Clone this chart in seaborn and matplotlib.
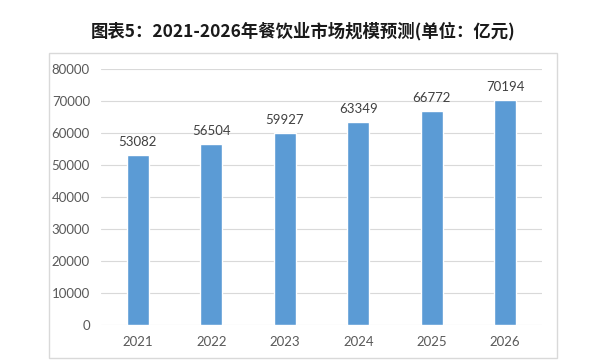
import matplotlib
matplotlib.use("Agg")
import matplotlib.pyplot as plt
import seaborn as sns
import pandas as pd
from matplotlib.patches import Rectangle

years = ["2021", "2022", "2023", "2024", "2025", "2026"]
values = [53082, 56504, 59927, 63349, 66772, 70194]
yticks = [0, 10000, 20000, 30000, 40000, 50000, 60000, 70000, 80000]
title = "图表5：2021-2026年餐饮业市场规模预测(单位：亿元)"

sns.set_theme(style="white")
plt.rcParams['font.family'] = ['Lato', 'DejaVu Sans']

df = pd.DataFrame({"year": years, "value": values})

fig = plt.figure(figsize=(6, 3.64), dpi=100)
fig.patch.set_facecolor("white")

# outer chart frame
fig.add_artist(Rectangle((49/600, 1-358/364), (557-49)/600, (358-53)/364,
                         transform=fig.transFigure, fill=False,
                         edgecolor="#D9D9D9", linewidth=1.0))

ax = fig.add_axes([101/600, 1-325/364, 441/600, (325-69)/364])
sns.barplot(data=df, x="year", y="value", color="#5B9BD5", width=0.3,
            saturation=1, ax=ax)
ax.set_ylim(0, 80000)
ax.set_yticks(yticks)
ax.set_yticklabels([str(t) for t in yticks])
ax.yaxis.grid(True, color="#D9D9D9", linewidth=0.8)
ax.set_axisbelow(True)
for s in ax.spines.values():
    s.set_visible(False)
ax.tick_params(axis="both", length=0, labelsize=9.5, colors="#595959")
ax.tick_params(axis="y", pad=8)
ax.tick_params(axis="x", pad=8)
ax.set_xlabel("")
ax.set_ylabel("")

for c in ax.containers:
    ax.bar_label(c, labels=[str(v) for v in values], padding=5,
                 fontsize=9.5, color="#404040")

fig.text(0.505, 1-31/364, title, ha="center", va="center", fontsize=12.5,
         fontweight="bold", color="#1a1a1a",
         family=["Noto Sans CJK SC", "DejaVu Sans"])

fig.savefig("out.png", dpi=100, facecolor="white")
